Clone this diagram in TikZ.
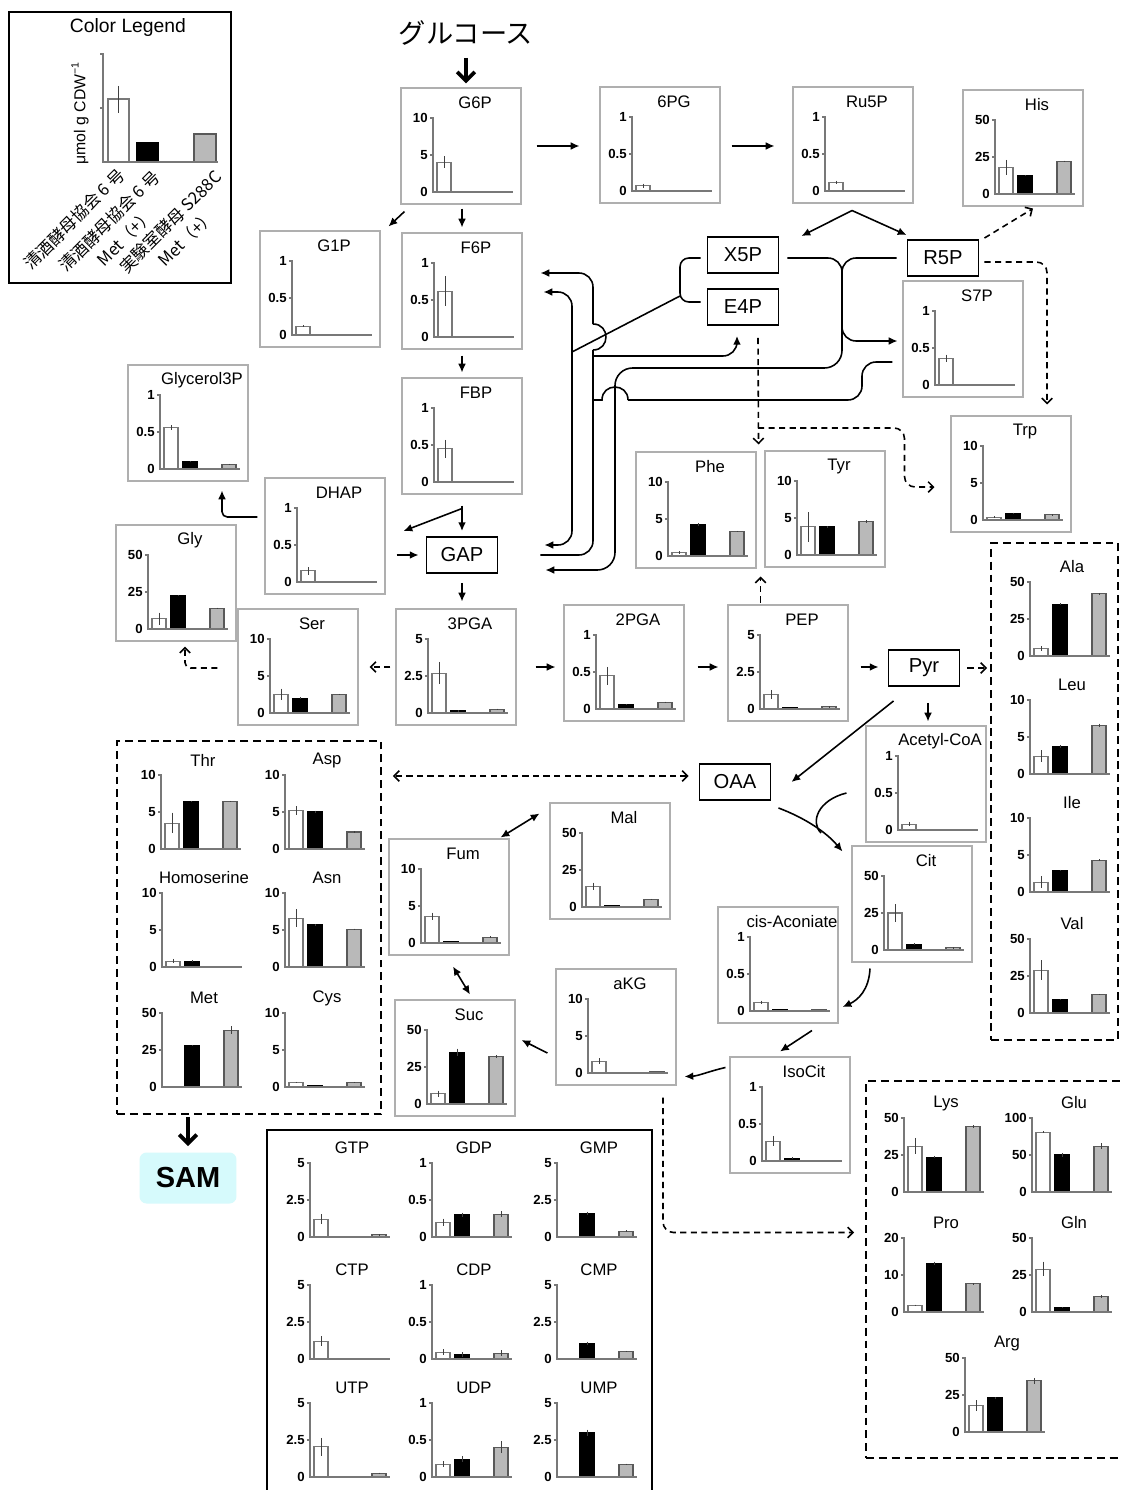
\documentclass[tikz,border=0pt]{standalone}
\usepackage{fontspec}
\setmainfont{Liberation Sans}
\newfontfamily\jpfont{Noto Sans CJK JP}
\usetikzlibrary{arrows.meta,positioning,calc}
\definecolor{AxisGray}{RGB}{120,120,120}
\definecolor{BarGray}{RGB}{185,185,185}
\definecolor{PanelGray}{RGB}{175,175,175}
\definecolor{SamCyan}{RGB}{214,250,252}
\tikzset{
  panel/.style={draw=PanelGray,line width=0.6pt,minimum width=2.4cm,
    minimum height=2.32cm,inner sep=0pt},
  metab/.style={draw=black,line width=1.1pt,minimum width=1.42cm,
    minimum height=0.72cm,inner sep=0pt,font=\fontsize{11.5}{13}\selectfont},
  sambox/.style={fill=SamCyan,rounded corners=4pt,minimum width=1.94cm,
    minimum height=1.02cm,font=\bfseries\fontsize{16.5}{18}\selectfont},
  ctitle/.style={inner sep=0pt,font=\fontsize{9.5}{11}\selectfont},
  ticklab/.style={anchor=east,inner sep=0pt,font=\bfseries\fontsize{7.5}{8}\selectfont},
  axisline/.style={draw=AxisGray,line width=0.6pt},
  wbar/.style={draw=AxisGray,fill=white,line width=0.6pt},
  bbar/.style={draw=black,fill=black,line width=0.6pt},
  gbar/.style={draw=black!65,fill=BarGray,line width=0.6pt},
  ebar/.style={draw=black!75,line width=0.5pt},
  conn/.style={line width=0.9pt},
  arr/.style={conn,-{Latex[length=5pt,width=4.5pt]}},
  arrtwo/.style={conn,{Latex[length=5pt,width=4.5pt]}-{Latex[length=5pt,width=4.5pt]}},
  dasharr/.style={conn,dash pattern=on 3.5pt off 2.5pt,
    -{Straight Barb[length=3pt,width=6pt]}},
  bigarr/.style={line width=2.2pt,-{Straight Barb[length=5pt,width=10pt]}},
  grpbox/.style={draw,line width=1.1pt,dash pattern=on 4.5pt off 2.8pt,inner sep=0pt},
  leglab/.style={rotate=45,anchor=north east,align=center,inner sep=0pt,
    font=\jpfont\fontsize{9.5}{13}\selectfont},
}
% one bar with its error bar: offset, style, value, error
\newcommand{\chartbar}[4]{%
  \draw[#2] (#1,0) rectangle ({#1+14},{-74*#3});
  \draw[ebar] ({#1+7},{-74*(#3+#4)}) -- ({#1+7},{-74*(#3-#4)});
}
% small bar chart: x, y of the axis corner, title, top and mid tick, three bars
\newcommand{\chart}[8]{%
  \begin{scope}[shift={(#1,#2)}]
    \node[ctitle] at (42,-89) {#3};
    \chartbar{4}{wbar}#6
    \chartbar{23}{bbar}#7
    \chartbar{62}{gbar}#8
    \draw[axisline] (-3,-74) -- (0,-74) -- (0,0) -- (80,0) (-3,-37) -- (0,-37);
    \node[ticklab] at (-5,-74) {#4};
    \node[ticklab] at (-5,-37) {#5};
    \node[ticklab] at (-5,0) {0};
  \end{scope}}
\newcommand{\panelchart}[9]{%
  \node[panel] (#1) at ({#2+28},{#3-46}) {};
  \chart{#2}{#3}{#4}{#5}{#6}{#7}{#8}{#9}}

\begin{document}
\begin{tikzpicture}[x=0.02cm,y=-0.02cm]
\useasboundingbox (0,0) rectangle (1120,1490);
\fill[white] (0,0) rectangle (1120,1490);

% legend
\node[draw,line width=1pt,minimum width=4.44cm,minimum height=5.42cm] (legend) at (120,147.5) {};
\node[font=\fontsize{11}{13}\selectfont] (legtitle) at (128,28) {Color Legend};
\draw[wbar] (108,162) rectangle (129,99);
\draw[ebar] (118.5,86) -- (118.5,113);
\draw[bbar] (137,162) rectangle (158,143);
\draw[gbar] (194,162) rectangle (216,134);
\draw[axisline] (100,54) -- (103,54) -- (103,162) -- (218,162) (100,108) -- (103,108);
\node[rotate=90,font=\fontsize{9}{10}\selectfont] (legunit) at (80,113) {μmol g CDW\textsuperscript{−1}};
\node[leglab] (legw) at (116,166) {清酒酵母協会 6 号};
\node[leglab] (legb) at (151,168) {清酒酵母協会 6 号\\Met（+）};
\node[leglab] (legg) at (213,168) {実験室酵母 S288C\\Met（+）};

% metabolite panels
\panelchart{g6p}{433}{192}{G6P}{10}{5}{{0.4}{0.08}}{{0}{0}}{{0}{0}}
\panelchart{pgl}{632}{191}{6PG}{1}{0.5}{{0.07}{0.03}}{{0}{0}}{{0}{0}}
\panelchart{rul}{825}{191}{Ru5P}{1}{0.5}{{0.12}{0.02}}{{0.01}{0}}{{0.01}{0}}
\panelchart{his}{995}{194}{His}{50}{25}{{0.36}{0.1}}{{0.25}{0.01}}{{0.44}{0.01}}
\panelchart{gip}{292}{335}{G1P}{1}{0.5}{{0.12}{0.01}}{{0.01}{0}}{{0.01}{0}}
\panelchart{f6p}{434}{337}{F6P}{1}{0.5}{{0.62}{0.2}}{{0.01}{0}}{{0.01}{0}}
\panelchart{fbp}{434}{482}{FBP}{1}{0.5}{{0.45}{0.12}}{{0}{0}}{{0}{0}}
\panelchart{glyc}{160}{469}{Glycerol3P}{1}{0.5}{{0.56}{0.03}}{{0.1}{0.01}}{{0.06}{0.01}}
\panelchart{dhap}{297}{582}{DHAP}{1}{0.5}{{0.15}{0.05}}{{0.01}{0}}{{0}{0}}
\panelchart{gly}{148}{629}{Gly}{50}{25}{{0.14}{0.08}}{{0.45}{0.01}}{{0.28}{0.01}}
\panelchart{ser}{270}{713}{Ser}{10}{5}{{0.25}{0.08}}{{0.2}{0.01}}{{0.25}{0.01}}
\panelchart{pgathree}{428}{713}{3PGA}{5}{2.5}{{0.54}{0.15}}{{0.03}{0.01}}{{0.05}{0.01}}
\panelchart{pgatwo}{596}{709}{2PGA}{1}{0.5}{{0.45}{0.12}}{{0.06}{0.01}}{{0.09}{0.01}}
\panelchart{pep}{760}{709}{PEP}{5}{2.5}{{0.2}{0.06}}{{0.02}{0}}{{0.03}{0.01}}
\panelchart{phe}{668}{556}{Phe}{10}{5}{{0.05}{0.02}}{{0.42}{0.02}}{{0.33}{0.01}}
\panelchart{tyr}{797}{555}{Tyr}{10}{5}{{0.38}{0.2}}{{0.38}{0.01}}{{0.45}{0.02}}
\panelchart{s7p}{935}{385}{S7P}{1}{0.5}{{0.36}{0.05}}{{0}{0}}{{0}{0}}
\panelchart{trp}{983}{520}{Trp}{10}{5}{{0.04}{0.01}}{{0.09}{0.01}}{{0.07}{0.01}}
\panelchart{accoa}{898}{830}{Acetyl-CoA}{1}{0.5}{{0.08}{0.03}}{{0}{0}}{{0}{0}}
\panelchart{mal}{582}{907}{Mal}{50}{25}{{0.28}{0.05}}{{0.02}{0}}{{0.1}{0.01}}
\panelchart{fum}{421}{943}{Fum}{10}{5}{{0.36}{0.05}}{{0.02}{0}}{{0.08}{0.01}}
\panelchart{cit}{884}{950}{Cit}{50}{25}{{0.5}{0.12}}{{0.08}{0.01}}{{0.03}{0.01}}
\panelchart{cisaco}{750}{1011}{cis-Aconiate}{1}{0.5}{{0.12}{0.02}}{{0.02}{0}}{{0.02}{0}}
\panelchart{akg}{588}{1073}{aKG}{10}{5}{{0.16}{0.04}}{{0.01}{0}}{{0.02}{0}}
\panelchart{suc}{427}{1104}{Suc}{50}{25}{{0.14}{0.04}}{{0.7}{0.05}}{{0.64}{0.02}}
\panelchart{isocit}{762}{1161}{IsoCit}{1}{0.5}{{0.27}{0.07}}{{0.04}{0.01}}{{0.01}{0}}

% amino acids from OAA
\node[grpbox,minimum width=5.28cm,minimum height=7.46cm] (thrgrp) at (249,927.5) {};
\chart{161}{849}{Thr}{10}{5}{{0.35}{0.14}}{{0.64}{0.01}}{{0.64}{0.01}}
\chart{285}{849}{Asp}{10}{5}{{0.52}{0.06}}{{0.5}{0.02}}{{0.23}{0.01}}
\chart{162}{967}{Homoserine}{10}{5}{{0.08}{0.03}}{{0.08}{0.01}}{{0.01}{0}}
\chart{285}{967}{Asn}{10}{5}{{0.66}{0.12}}{{0.57}{0.01}}{{0.51}{0.01}}
\chart{162}{1087}{Met}{50}{25}{{0}{0}}{{0.56}{0.01}}{{0.77}{0.05}}
\chart{285}{1087}{Cys}{10}{5}{{0.06}{0.01}}{{0.02}{0}}{{0.06}{0.01}}

% amino acids from Pyr
\node[grpbox,minimum width=2.54cm,minimum height=9.94cm] (alagrp) at (1054.5,791.5) {};
\chart{1030}{656}{Ala}{50}{25}{{0.1}{0.03}}{{0.7}{0.01}}{{0.84}{0.01}}
\chart{1030}{774}{Leu}{10}{5}{{0.24}{0.08}}{{0.37}{0.02}}{{0.66}{0.02}}
\chart{1030}{892}{Ile}{10}{5}{{0.13}{0.08}}{{0.29}{0.01}}{{0.43}{0.01}}
\chart{1030}{1013}{Val}{50}{25}{{0.58}{0.13}}{{0.18}{0.01}}{{0.25}{0.01}}

% amino acids from aKG
\node[grpbox,minimum width=5.18cm,minimum height=7.54cm] (lysgrp) at (995.5,1269.5) {};
\chart{904}{1192}{Lys}{50}{25}{{0.62}{0.11}}{{0.47}{0.01}}{{0.88}{0.02}}
\chart{1032}{1192}{Glu}{100}{50}{{0.81}{0.01}}{{0.5}{0.03}}{{0.62}{0.04}}
\chart{904}{1312}{Pro}{20}{10}{{0.09}{0.01}}{{0.66}{0.02}}{{0.38}{0.01}}
\chart{1032}{1312}{Gln}{50}{25}{{0.58}{0.1}}{{0.06}{0.01}}{{0.21}{0.02}}
\chart{965}{1432}{Arg}{50}{25}{{0.36}{0.07}}{{0.46}{0.01}}{{0.69}{0.04}}

% nucleotides
\node[draw,line width=1pt,minimum width=7.7cm,minimum height=7.3cm] (nucbox) at (459.5,1312.5) {};
\chart{310}{1237}{GTP}{5}{2.5}{{0.24}{0.07}}{{0}{0}}{{0.03}{0.01}}
\chart{432}{1237}{GDP}{1}{0.5}{{0.2}{0.05}}{{0.3}{0.03}}{{0.31}{0.04}}
\chart{557}{1237}{GMP}{5}{2.5}{{0}{0}}{{0.32}{0.02}}{{0.08}{0.01}}
\chart{310}{1359}{CTP}{5}{2.5}{{0.24}{0.07}}{{0}{0}}{{0.01}{0}}
\chart{432}{1359}{CDP}{1}{0.5}{{0.09}{0.04}}{{0.06}{0.03}}{{0.08}{0.04}}
\chart{557}{1359}{CMP}{5}{2.5}{{0}{0}}{{0.21}{0.02}}{{0.1}{0.01}}
\chart{310}{1477}{UTP}{5}{2.5}{{0.41}{0.12}}{{0}{0}}{{0.05}{0.01}}
\chart{432}{1477}{UDP}{1}{0.5}{{0.17}{0.04}}{{0.24}{0.04}}{{0.4}{0.08}}
\chart{557}{1477}{UMP}{5}{2.5}{{0}{0}}{{0.6}{0.04}}{{0.17}{0.01}}

% boxed metabolites
\node[font=\jpfont\fontsize{15.5}{17}\selectfont] (glc) at (466,33) {グルコース};
\node[metab] (x5p) at (743,255) {X5P};
\node[metab] (e4p) at (743,307) {E4P};
\node[metab] (r5p) at (943,258) {R5P};
\node[metab] (gap) at (462,555) {GAP};
\node[metab] (pyr) at (924,668) {Pyr};
\node[metab] (oaa) at (735,782) {OAA};
\node[sambox] (sam) at (188,1178) {SAM};

% glycolysis and pentose phosphate
\draw[bigarr] ($(glc)+(0,25)$) -- ($(glc |- g6p.north)+(0,-4)$);
\draw[arr] ($(g6p.east)+(15,0)$) -- ($(pgl.west)+(-20,1)$);
\draw[arr] ($(pgl.east)+(11,1)$) -- ($(rul.west)+(-18,1)$);
\coordinate (rusplit) at ($(rul.south)+(-1,7)$);
\draw[arr] (rusplit) -- ($(x5p.north east)+(22,0)$);
\draw[arr] (rusplit) -- ($(r5p.north west)+(0,-4)$);
\draw[arr] ($(g6p.south west)+(4,7)$) -- ($(gip.north east)+(8,-4)$);
\draw[arr] ($(g6p.south)+(1,4)$) -- ($(f6p.north)+(0,-5)$);
\draw[arr] ($(f6p.south)+(0,6)$) -- ($(fbp.north)+(0,-5)$);
\coordinate (fbpsplit) at ($(fbp.south)+(0,14)$);
\draw[arr] ($(fbp.south)+(0,11)$) -- ($(gap.north)+(0,-5)$);
\draw[arr] (fbpsplit) -- ($(dhap.east)+(18,-5)$);
\draw[arr] ($(dhap.east |- gap.west)+(11,0)$) -- ($(gap.west)+(-7,0)$);
\draw[arr,rounded corners=3pt] ($(dhap.west)+(-7,-19)$) -| ($(glyc.south)+(34,9)$);
\draw[arr] ($(gap.south)+(0,9)$) -- ($(gap.south |- pgathree.north)+(0,-7)$);
\draw[dasharr] ($(pgathree.west)+(-5,0)$) -- ($(ser.east)+(11,0)$);
\draw[dasharr,rounded corners=3pt] ($(ser.west)+(-20,1)$) -| ($(gly.south)+(9,5)$);
\draw[arr] ($(pgathree.east)+(19,0)$) -- ($(pgatwo.west |- pgathree.east)+(-8,0)$);
\draw[arr] ($(pgatwo.east)+(13,4)$) -- ($(pep.west)+(-9,4)$);
\draw[dasharr] ($(phe.south east)+(4,34)$) -- ($(phe.south east)+(4,8)$);
\draw[arr] ($(pep.east)+(12,4)$) -- ($(pyr.west)+(-9,-1)$);
\draw[dasharr] ($(pyr.east)+(7,0)$) -- ($(alagrp.west |- pyr.east)+(-3,0)$);

% transketolase and transaldolase
\coordinate (x5pL) at ($(x5p.west)+(-6,3)$);
\coordinate (e4pL) at ($(e4p.west)+(-6,-5)$);
\coordinate (x5pR) at ($(x5p.east)+(8,3)$);
\coordinate (r5pL) at ($(r5p.west)+(-10,0)$);
\coordinate (e4pB) at ($(e4p.south)+(-6,10)$);
\coordinate (f6pA) at ($(f6p.east)+(18,-18)$);
\coordinate (f6pB) at ($(f6p.east)+(21,1)$);
\coordinate (gapA) at ($(gap.east)+(42,0)$);
\coordinate (gapB) at ($(gap.east)+(46,-10)$);
\coordinate (gapC) at ($(gap.east)+(47,15)$);
\coordinate (s7pA) at ($(s7p.west)+(-10,23)$);
\coordinate (s7pB) at ($(s7p.west)+(-5,2)$);
\draw[conn,rounded corners=5pt] (x5pL) -| (680,302) -- (e4pL);
\draw[conn] (680,296) -- (572,352);
\draw[arrtwo,rounded corners=8pt] (f6pB) -| (572,420) |- (gapB);
\draw[conn,rounded corners=8pt] (gapA) -| (593,350);
\draw[conn] (593,350) .. controls (610.3,350) and (610.3,324) .. (593,324);
\draw[arr,rounded corners=8pt] (593,324) |- (f6pA);
\draw[arr,rounded corners=8pt] (593,356) -| (e4pB);
\draw[conn,rounded corners=8pt] (s7pA) -| (862,400) -- (628,400);
\draw[conn] (628,400) .. controls (628,382.7) and (602,382.7) .. (602,400) -- (593,400);
\draw[conn,rounded corners=8pt] (x5pR) -| (842,300);
\draw[conn,rounded corners=8pt] (r5pL) -| (842,300);
\draw[arr,rounded corners=8pt] (842,300) |- (s7pB);
\draw[arr,rounded corners=10pt] (842,300) |- (615,368) |- (gapC);

% aromatic and histidine branches
\coordinate (arosplit) at ($(e4p.south)+(15,102)$);
\draw[dasharr] ($(e4p.south)+(15,12)$) -- ($(phe.north east)+(2,-7)$);
\draw[dasharr,rounded corners=6pt] (arosplit) -| ($(trp.west)+(-46,13)$) -- ($(trp.west)+(-16,13)$);
\draw[dasharr] ($(r5p.north east)+(5,-1)$) -- ($(his.south)+(10,2)$);
\draw[dasharr,rounded corners=6pt] ($(r5p.east)+(5,4)$) -| ($(trp.north)+(36,-11)$);

% TCA cycle
\draw[arr] ($(pyr.south)+(4,16)$) -- ($(accoa.north)+(2,-4)$);
\draw[arr] ($(pyr.south west)+(6,14)$) -- ($(oaa.east)+(20,0)$);
\draw[arr] ($(oaa.south east)+(7,7)$) .. controls (805,818) and (826,832) .. ($(cit.north west)+(-9,6)$);
\draw[conn] ($(accoa.west)+(-19,9)$) .. controls (818,800) and (810,822) .. (821,833);
\draw[dasharr,{Straight Barb[length=3pt,width=6pt]}-{Straight Barb[length=3pt,width=6pt]}] ($(oaa.west)+(-10,-6)$) -- ($(thrgrp.east)+(11,-151.5)$);
\draw[arr] ($(cit.south)+(-42,6)$) .. controls (869,990) and (858,1000) .. ($(cisaco.east)+(4,42)$);
\draw[arr] ($(cisaco.south)+(34,7)$) -- ($(isocit.north)+(-10,-5)$);
\draw[arr] ($(isocit.north west)+(-4,11)$) .. controls (710,1071) and (698,1076) .. ($(akg.south east)+(8,-9)$);
\draw[arr] ($(akg.west)+(-8,26)$) -- ($(suc.east)+(6,-18)$);
\draw[arrtwo] ($(fum.south)+(4,11)$) -- ($(suc.north)+(15,-5)$);
\draw[arrtwo] ($(fum.north east)+(-9,-1)$) -- ($(mal.north west)+(-10,11)$);
\draw[dasharr,rounded corners=6pt] ($(akg.south)+(47,12)$) |- ($(lysgrp.west)+(-11,-37)$);
\draw[bigarr] ($(thrgrp.south)+(-61,2)$) -- ($(sam.north)+(0,-6)$);
\end{tikzpicture}
\end{document}
